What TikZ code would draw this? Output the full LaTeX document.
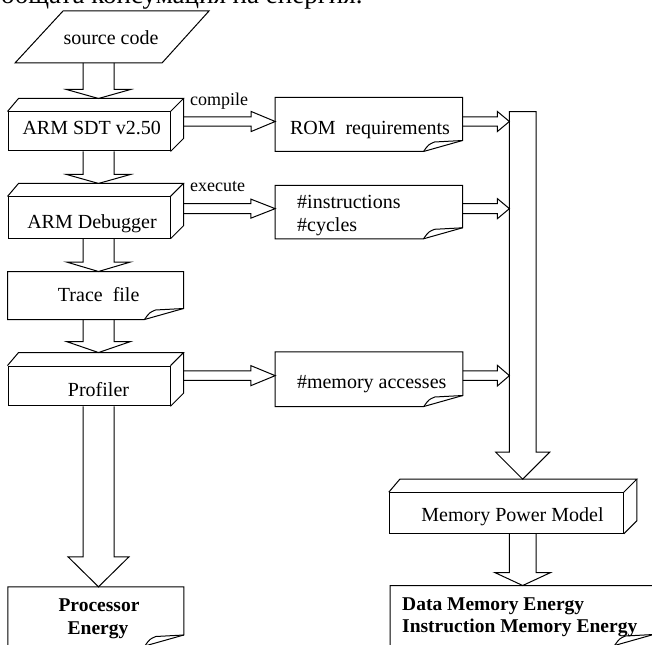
\documentclass[tikz,border=0pt]{standalone}
\usepackage{fontspec}
\setmainfont{Liberation Serif}
\usetikzlibrary{calc}
% vertical block arrow: #1 start, #2 tip, #3 shaft half width, #4 head half width, #5 head length, #6 path end
\newcommand\vblk[6]{\draw[blk] let \p1=(#1), \p2=(#2) in (\x2-#3pt,\y1) -- (\x2-#3pt,\y2+#5pt) -- (\x2-#4pt,\y2+#5pt) -- (\x2,\y2) -- (\x2+#4pt,\y2+#5pt) -- (\x2+#3pt,\y2+#5pt) -- (\x2+#3pt,\y1) #6;}
% horizontal block arrow
\newcommand\hblk[5]{\draw[blk] let \p1=(#1), \p2=(#2) in (\x1,\y2+#3pt) -- (\x2-#5pt,\y2+#3pt) -- (\x2-#5pt,\y2+#4pt) -- (\x2,\y2) -- (\x2-#5pt,\y2-#4pt) -- (\x2-#5pt,\y2-#3pt) -- (\x1,\y2-#3pt);}
\newcommand\cubeoutline[1]{\draw (#1.north west) -- ($(#1.north west)+(11,-13)$) -- ($(#1.north east)+(13,-13)$) -- (#1.north east);
  \draw ($(#1.north east)+(13,-13)$) -- ($(#1.south east)+(13,-13)$) -- (#1.south east);}
\newcommand\docoutline[1]{\draw (#1.north west) -- (#1.north east) -- ($(#1.south east)+(0,-11)$) -- ($(#1.south east)+(-39,0)$) -- (#1.south west) -- cycle;
  \draw ($(#1.south east)+(-39,0)$) .. controls ($(#1.south east)+(-34,-7)$) .. ($(#1.south east)+(-28,-9.5)$) -- ($(#1.south east)+(0,-11)$);}
\begin{document}
\begin{tikzpicture}[x=1pt,y=-1pt,line width=1pt,line join=miter,
  every node/.style={inner sep=0pt},
  txt/.style={font=\fontsize{20}{24}\selectfont, anchor=base},
  btxt/.style={font=\fontsize{19.5}{24}\selectfont\bfseries, anchor=base},
  smalltxt/.style={font=\fontsize{18}{22}\selectfont, anchor=base},
  cube/.style={draw, minimum width=162pt, minimum height=40pt},
  doc/.style={minimum width=186.3pt, minimum height=53pt},
  blk/.style={line join=miter}]
\useasboundingbox (0,0) rectangle (652,644);
\begin{scope}
\clip (0,0) rectangle (652,644);
\node[font=\fontsize{27}{30}\selectfont, anchor=base east] (hdr) at (363,3.8) {общата консумация на енергия.};
\end{scope}
% helper coordinates
\coordinate (ax) at (98.5,0);
\coordinate (bx) at (522.7,0);
\coordinate (bigL) at (509.4,0);
\coordinate (bigtop) at (522.7,111.7);
\coordinate (srcB) at (98.5,63);
% source code
\draw (15,63) -- (162,63) -- (209,11) -- (63,11) -- cycle;
\node[txt] (src) at (111,44.3) {source code};
% cubes
\node[cube, minimum height=39pt] (sdt) at (89,131.5) {};
\node[cube, minimum height=41.3pt] (dbg) at (89,217.6) {};
\node[cube, minimum height=39.7pt] (prof) at (89,385.9) {};
\node[cube, minimum width=234pt, minimum height=40.6pt] (mpm) at (506.3,513) {};
\cubeoutline{sdt}
\cubeoutline{dbg}
\cubeoutline{prof}
\cubeoutline{mpm}
\node[txt] (sdtT) at (91.7,134.3) {ARM SDT v2.50};
\node[txt] (dbgT) at (92,228.3) {ARM Debugger};
\node[txt] (profT) at (98.5,396) {Profiler};
\node[txt] (mpmT) at (512.5,521.7) {Memory Power Model};
% documents
\node[doc] (rom) at (368.85,124.5) {};
\node[doc, minimum height=52.3pt] (ins) at (368.85,212.15) {};
\node[doc, minimum width=175pt, minimum height=47pt] (trace) at (95.5,295.5) {};
\node[doc, minimum width=186.6pt, minimum height=53.7pt] (mem) at (369,379.15) {};
\node[doc, minimum width=175pt, minimum height=58.2pt] (proc) at (95.8,616.4) {};
\node[doc, minimum width=262.3pt, minimum height=59pt] (data) at (521.85,615.5) {};
\docoutline{rom}
\docoutline{ins}
\docoutline{trace}
\docoutline{mem}
\docoutline{proc}
\docoutline{data}
\node[txt] (romT) at (370,134.3) {ROM\ \ requirements};
\node[txt, anchor=base west] (insT1) at (296.7,208.3) {\#instructions};
\node[txt, anchor=base west] (insT2) at (296.7,231.7) {\#cycles};
\node[txt] (traceT) at (98.7,301.7) {Trace\ \ file};
\node[txt] (memT) at (371.7,388.3) {\#memory accesses};
\node[btxt] (procT1) at (99,611.7) {Processor};
\node[btxt] (procT2) at (98,634) {Energy};
\node[btxt, anchor=base west] (dataT1) at (401.7,610) {Data Memory Energy};
\node[btxt, anchor=base west] (dataT2) at (401.7,632.7) {Instruction Memory Energy};
\node[smalltxt] (lblcompile) at (219,105.7) {compile};
\node[smalltxt] (lblexecute) at (217.5,191.7) {execute};
% vertical block arrows
\vblk{srcB}{$(sdt.north -| ax)+(0,-13)$}{15.5}{32}{9}{}
\vblk{sdt.south -| ax}{$(dbg.north -| ax)+(0,-13)$}{15.5}{32}{9}{}
\vblk{dbg.south -| ax}{trace.north -| ax}{15.5}{32}{9.5}{}
\vblk{trace.south -| ax}{$(prof.north -| ax)+(0,-13)$}{15.5}{32}{11}{}
\vblk{prof.south -| ax}{proc.north -| ax}{15.5}{30.5}{30}{}
\vblk{bigtop}{$(mpm.north -| bx)+(0,-13)$}{13.3}{27}{27}{-- cycle}
\vblk{mpm.south -| bx}{data.north -| bx}{13.3}{28}{13}{}
% horizontal block arrows
\coordinate (romR) at ($(rom.east)+(0,-3)$);
\coordinate (insR) at ($(ins.east)+(0,-3.5)$);
\coordinate (memR) at ($(mem.east)+(0,-3.5)$);
\hblk{$(sdt.east)+(13,0)$}{$(rom.west)+(0,-3)$}{4.7}{10}{24}
\hblk{rom.east}{romR -| bigL}{4.7}{10}{12}
\hblk{$(dbg.east)+(13,0)$}{$(ins.west)+(0,-3.5)$}{5}{9.5}{24.3}
\hblk{ins.east}{insR -| bigL}{5}{10}{12}
\hblk{$(prof.east)+(13,0)$}{$(mem.west)+(0,-3.5)$}{4.8}{10}{24.3}
\hblk{mem.east}{memR -| bigL}{4.7}{10.3}{12}
\end{tikzpicture}
\end{document}
